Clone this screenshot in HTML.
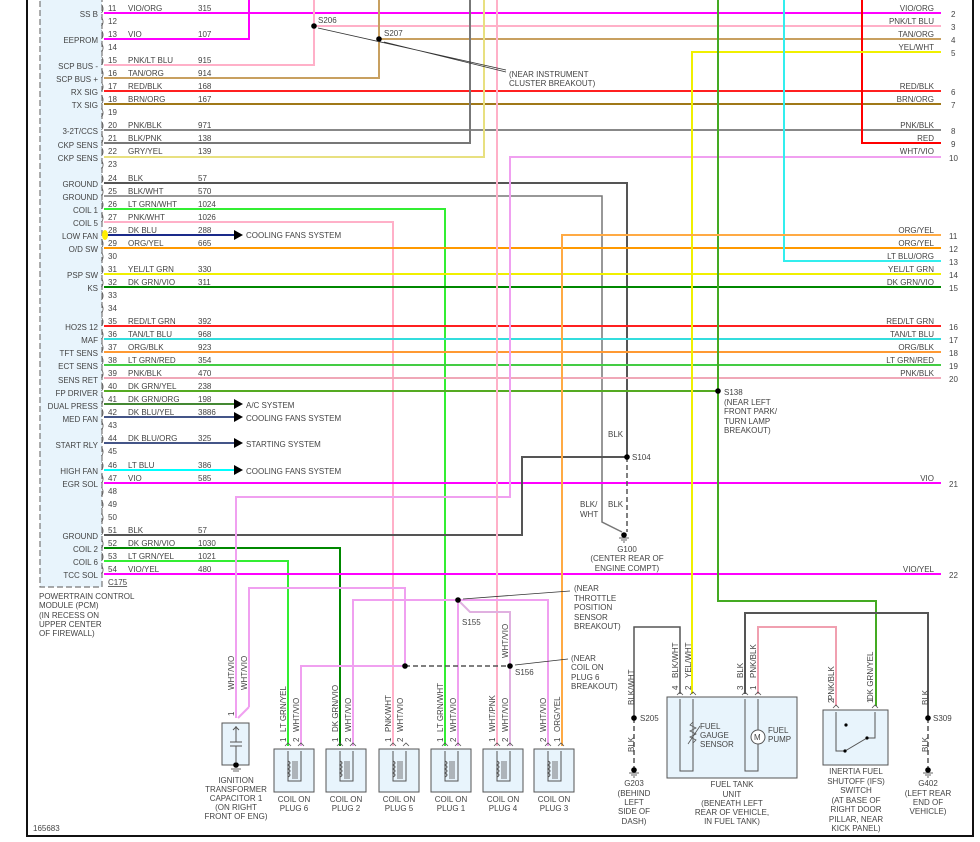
<!DOCTYPE html>
<html><head><meta charset="utf-8"><style>
html,body{margin:0;padding:0;background:#fff;}
svg{display:block;font-family:"Liberation Sans",sans-serif;font-size:8px;fill:#444;}
</style></head><body>
<svg width="980" height="842" viewBox="0 0 980 842" xmlns="http://www.w3.org/2000/svg">
<defs>
<g id="coil">
<rect x="0" y="0" width="40" height="43" fill="#e8f4fc" stroke="#555" stroke-width="1"/>
<path d="M14 2 V32 H27 V2" fill="none" stroke="#555" stroke-width="1"/>
<path d="M14 12 q4 2 0 4 q4 2 0 4 q4 2 0 4 q4 2 0 4" fill="none" stroke="#555" stroke-width="1"/>
<path d="M19 12 V30 M21 12 V30 M23 12 V30" stroke="#555" stroke-width="0.8"/>
<path d="M11 -3 l3 -3 l3 3 M24 -3 l3 -3 l3 3" fill="none" stroke="#555" stroke-width="0.8"/>
</g>
</defs>
<!-- page border -->
<path d="M27 0 V836 H973 V0" fill="none" stroke="#111" stroke-width="2"/>
<!-- PCM box -->
<rect x="40" y="-5" width="62" height="592" fill="#e8f4fc" stroke="#777" stroke-width="1.2" stroke-dasharray="6,3"/>
<g stroke-width="2" fill="none">
<!-- vertical risers to top -->
<path d="M104 13 H941" stroke="#ff00ff"/>
<path d="M104 39 H249 V0" stroke="#ff00ff"/>
<path d="M104 65 H314 V0" stroke="#ffb0c8"/>
<path d="M314 26 H941" stroke="#ffb0c8"/>
<path d="M104 78 H379 V0" stroke="#c8a060"/>
<path d="M379 39 H941" stroke="#c8a060"/>
<path d="M104 91 H941" stroke="#ff2020"/>
<path d="M104 104 H941" stroke="#a07818"/>
<path d="M104 130 H941" stroke="#888"/>
<path d="M104 143 H470 V0" stroke="#777"/>
<path d="M104 157 H484 V0" stroke="#e8e080"/>
<path d="M104 183 H627 V457" stroke="#555"/>
<path d="M104 196 H602 V522 L622 532" stroke="#777" stroke-width="1.5"/>
<path d="M104 209 H445 V746" stroke="#33ee33"/>
<path d="M104 222 H393 V746" stroke="#ffb0c8"/>
<path d="M104 248 H941" stroke="#ff9900"/>
<path d="M104 274 H941" stroke="#f0f000"/>
<path d="M104 287 H941" stroke="#008800"/>
<path d="M104 326 H941" stroke="#ff2020"/>
<path d="M104 339 H941" stroke="#33dddd"/>
<path d="M104 352 H941" stroke="#ff9933"/>
<path d="M104 365 H941" stroke="#44cc44"/>
<path d="M104 378 H941" stroke="#f0a8b8"/>
<path d="M104 391 H718" stroke="#55aa22"/>
<path d="M104 483 H941" stroke="#ff00ff"/>
<path d="M104 535 H522 V457 H627" stroke="#555"/>
<path d="M104 548 H340 V746" stroke="#008800"/>
<path d="M104 561 H288 V746" stroke="#33ee33"/>
<path d="M104 574 H941" stroke="#ff00ff"/>
<!-- arrow wires -->
<path d="M104 235 H234" stroke="#1a2a8a"/>
<path d="M104 404 H234" stroke="#448833"/>
<path d="M104 417 H234" stroke="#445588"/>
<path d="M104 443 H234" stroke="#445588"/>
<path d="M104 470 H234" stroke="#00ffff"/>
<!-- right side feeds -->
<path d="M862 0 V143 H941" stroke="#ff0000"/>
<path d="M941 157 H510 V497 H236 V718" stroke="#f0a0f0"/>
<path d="M497 0 V746" stroke="#ffb0c8"/>
<path d="M941 52 H692 V694" stroke="#f0f000"/>
<path d="M718 0 V601 H876 V706" stroke="#44aa22"/>
<path d="M784 0 V261 H941" stroke="#33eeee"/>
<path d="M941 235 H562 V746" stroke="#ffaa44"/>
<path d="M249 707 V588 H405 V666" stroke="#f0a0f0"/>
<path d="M249 707 L238 718" stroke="#f0a0f0"/>
<path d="M405 666 H301 V746" stroke="#f0a0f0"/>
<path d="M353 746 V600 H548 V746" stroke="#f0a0f0"/>
<path d="M458 600 V746" stroke="#f0a0f0"/>
<path d="M458 600 L470 612 H510 V746" stroke="#e0b0e0"/>
<!-- fuel side -->
<path d="M634 718 V627 H680 V694" stroke="#555" stroke-width="1.5"/>
<path d="M745 694 V613 H928 V718" stroke="#555"/>
<path d="M758 694 V627 H836 V706" stroke="#f0a0b0"/>
</g>
<!-- dashed -->
<g stroke="#555" stroke-width="1.5" fill="none" stroke-dasharray="5,3">
<path d="M627 457 V532"/>
<path d="M405 666 H510"/>
<path d="M634 718 V768"/>
<path d="M928 718 V768"/>
</g>
<!-- arrowheads -->
<g fill="#000">
<path d="M234 230 L243 235 L234 240Z"/>
<path d="M234 399 L243 404 L234 409Z"/>
<path d="M234 412 L243 417 L234 422Z"/>
<path d="M234 438 L243 443 L234 448Z"/>
<path d="M234 465 L243 470 L234 475Z"/>
</g>
<ellipse cx="105" cy="235" rx="3" ry="5" fill="#ffee00"/>
<!-- dots -->
<g fill="#000">
<circle cx="314" cy="26" r="2.8"/><circle cx="379" cy="39" r="2.8"/>
<circle cx="627" cy="457" r="2.8"/><circle cx="718" cy="391" r="2.8"/>
<circle cx="624" cy="535" r="2.8"/><circle cx="458" cy="600" r="2.8"/>
<circle cx="405" cy="666" r="2.8"/><circle cx="510" cy="666" r="2.8"/>
<circle cx="634" cy="718" r="2.8"/><circle cx="928" cy="718" r="2.8"/>
<circle cx="634" cy="770" r="2.8"/><circle cx="928" cy="770" r="2.8"/>
</g>
<g stroke="#333" stroke-width="0.8">
<path d="M619 538 H629 M621 540 H627 M623 542 H625"/>
<path d="M629 773 H639 M631 775 H637 M633 777 H635"/>
<path d="M923 773 H933 M925 775 H931 M927 777 H929"/>
<path d="M506 70 L318 28 M506 72 L384 42 M570 591 L463 599 M568 659 L515 665"/>
</g>
<!-- PCM left labels -->
<g text-anchor="end">
<text x="98" y="17">SS B</text><text x="98" y="43">EEPROM</text><text x="98" y="69">SCP BUS -</text>
<text x="98" y="82">SCP BUS +</text><text x="98" y="95">RX SIG</text><text x="98" y="108">TX SIG</text>
<text x="98" y="134">3-2T/CCS</text><text x="98" y="148">CKP SENS</text><text x="98" y="161">CKP SENS</text>
<text x="98" y="187">GROUND</text><text x="98" y="200">GROUND</text><text x="98" y="213">COIL 1</text>
<text x="98" y="226">COIL 5</text><text x="98" y="239">LOW FAN</text><text x="98" y="252">O/D SW</text>
<text x="98" y="278">PSP SW</text><text x="98" y="291">KS</text><text x="98" y="330">HO2S 12</text>
<text x="98" y="343">MAF</text><text x="98" y="356">TFT SENS</text><text x="98" y="369">ECT SENS</text>
<text x="98" y="383">SENS RET</text><text x="98" y="396">FP DRIVER</text><text x="98" y="409">DUAL PRESS</text>
<text x="98" y="422">MED FAN</text><text x="98" y="448">START RLY</text><text x="98" y="474">HIGH FAN</text>
<text x="98" y="487">EGR SOL</text><text x="98" y="539">GROUND</text><text x="98" y="552">COIL 2</text>
<text x="98" y="565">COIL 6</text><text x="98" y="578">TCC SOL</text>
</g>
<!-- pin numbers / wire names -->
<g>
<text x="108" y="11">11</text><text x="128" y="11">VIO/ORG</text><text x="198" y="11">315</text>
<text x="108" y="24">12</text>
<text x="108" y="37">13</text><text x="128" y="37">VIO</text><text x="198" y="37">107</text>
<text x="108" y="50">14</text>
<text x="108" y="63">15</text><text x="128" y="63">PNK/LT BLU</text><text x="198" y="63">915</text>
<text x="108" y="76">16</text><text x="128" y="76">TAN/ORG</text><text x="198" y="76">914</text>
<text x="108" y="89">17</text><text x="128" y="89">RED/BLK</text><text x="198" y="89">168</text>
<text x="108" y="102">18</text><text x="128" y="102">BRN/ORG</text><text x="198" y="102">167</text>
<text x="108" y="115">19</text>
<text x="108" y="128">20</text><text x="128" y="128">PNK/BLK</text><text x="198" y="128">971</text>
<text x="108" y="141">21</text><text x="128" y="141">BLK/PNK</text><text x="198" y="141">138</text>
<text x="108" y="154">22</text><text x="128" y="154">GRY/YEL</text><text x="198" y="154">139</text>
<text x="108" y="167">23</text>
<text x="108" y="181">24</text><text x="128" y="181">BLK</text><text x="198" y="181">57</text>
<text x="108" y="194">25</text><text x="128" y="194">BLK/WHT</text><text x="198" y="194">570</text>
<text x="108" y="207">26</text><text x="128" y="207">LT GRN/WHT</text><text x="198" y="207">1024</text>
<text x="108" y="220">27</text><text x="128" y="220">PNK/WHT</text><text x="198" y="220">1026</text>
<text x="108" y="233">28</text><text x="128" y="233">DK BLU</text><text x="198" y="233">288</text>
<text x="108" y="246">29</text><text x="128" y="246">ORG/YEL</text><text x="198" y="246">665</text>
<text x="108" y="259">30</text>
<text x="108" y="272">31</text><text x="128" y="272">YEL/LT GRN</text><text x="198" y="272">330</text>
<text x="108" y="285">32</text><text x="128" y="285">DK GRN/VIO</text><text x="198" y="285">311</text>
<text x="108" y="298">33</text><text x="108" y="311">34</text>
<text x="108" y="324">35</text><text x="128" y="324">RED/LT GRN</text><text x="198" y="324">392</text>
<text x="108" y="337">36</text><text x="128" y="337">TAN/LT BLU</text><text x="198" y="337">968</text>
<text x="108" y="350">37</text><text x="128" y="350">ORG/BLK</text><text x="198" y="350">923</text>
<text x="108" y="363">38</text><text x="128" y="363">LT GRN/RED</text><text x="198" y="363">354</text>
<text x="108" y="376">39</text><text x="128" y="376">PNK/BLK</text><text x="198" y="376">470</text>
<text x="108" y="389">40</text><text x="128" y="389">DK GRN/YEL</text><text x="198" y="389">238</text>
<text x="108" y="402">41</text><text x="128" y="402">DK GRN/ORG</text><text x="198" y="402">198</text>
<text x="108" y="415">42</text><text x="128" y="415">DK BLU/YEL</text><text x="198" y="415">3886</text>
<text x="108" y="428">43</text>
<text x="108" y="441">44</text><text x="128" y="441">DK BLU/ORG</text><text x="198" y="441">325</text>
<text x="108" y="454">45</text>
<text x="108" y="468">46</text><text x="128" y="468">LT BLU</text><text x="198" y="468">386</text>
<text x="108" y="481">47</text><text x="128" y="481">VIO</text><text x="198" y="481">585</text>
<text x="108" y="494">48</text><text x="108" y="507">49</text><text x="108" y="520">50</text>
<text x="108" y="533">51</text><text x="128" y="533">BLK</text><text x="198" y="533">57</text>
<text x="108" y="546">52</text><text x="128" y="546">DK GRN/VIO</text><text x="198" y="546">1030</text>
<text x="108" y="559">53</text><text x="128" y="559">LT GRN/YEL</text><text x="198" y="559">1021</text>
<text x="108" y="572">54</text><text x="128" y="572">VIO/YEL</text><text x="198" y="572">480</text>
<text x="108" y="585" text-decoration="underline">C175</text>
</g>
<!-- connector brackets -->
<g fill="#555" font-size="9">
<text x="101" y="11">)</text><text x="101" y="24">)</text><text x="101" y="37">)</text><text x="101" y="50">)</text><text x="101" y="63">)</text><text x="101" y="76">)</text><text x="101" y="89">)</text><text x="101" y="102">)</text><text x="101" y="115">)</text><text x="101" y="128">)</text><text x="101" y="141">)</text><text x="101" y="154">)</text><text x="101" y="167">)</text><text x="101" y="181">)</text><text x="101" y="194">)</text><text x="101" y="207">)</text><text x="101" y="220">)</text><text x="101" y="246">)</text><text x="101" y="259">)</text><text x="101" y="272">)</text><text x="101" y="285">)</text><text x="101" y="298">)</text><text x="101" y="311">)</text><text x="101" y="324">)</text><text x="101" y="337">)</text><text x="101" y="350">)</text><text x="101" y="363">)</text><text x="101" y="376">)</text><text x="101" y="389">)</text><text x="101" y="402">)</text><text x="101" y="415">)</text><text x="101" y="428">)</text><text x="101" y="441">)</text><text x="101" y="454">)</text><text x="101" y="468">)</text><text x="101" y="481">)</text><text x="101" y="494">)</text><text x="101" y="507">)</text><text x="101" y="520">)</text><text x="101" y="533">)</text><text x="101" y="546">)</text><text x="101" y="559">)</text><text x="101" y="572">)</text>
</g>
<!-- arrow labels -->
<text x="246" y="238">COOLING FANS SYSTEM</text>
<text x="246" y="408">A/C SYSTEM</text>
<text x="246" y="421">COOLING FANS SYSTEM</text>
<text x="246" y="447">STARTING SYSTEM</text>
<text x="246" y="474">COOLING FANS SYSTEM</text>
<!-- right labels -->
<g text-anchor="end">
<text x="934" y="11">VIO/ORG</text><text x="934" y="24">PNK/LT BLU</text><text x="934" y="37">TAN/ORG</text>
<text x="934" y="50">YEL/WHT</text><text x="934" y="89">RED/BLK</text><text x="934" y="102">BRN/ORG</text>
<text x="934" y="128">PNK/BLK</text><text x="934" y="141">RED</text><text x="934" y="154">WHT/VIO</text>
<text x="934" y="233">ORG/YEL</text><text x="934" y="246">ORG/YEL</text><text x="934" y="259">LT BLU/ORG</text>
<text x="934" y="272">YEL/LT GRN</text><text x="934" y="285">DK GRN/VIO</text><text x="934" y="324">RED/LT GRN</text>
<text x="934" y="337">TAN/LT BLU</text><text x="934" y="350">ORG/BLK</text><text x="934" y="363">LT GRN/RED</text>
<text x="934" y="376">PNK/BLK</text><text x="934" y="481">VIO</text><text x="934" y="572">VIO/YEL</text>
</g>
<g>
<text x="951" y="17">2</text><text x="951" y="30">3</text><text x="951" y="43">4</text><text x="951" y="56">5</text>
<text x="951" y="95">6</text><text x="951" y="108">7</text><text x="951" y="134">8</text><text x="951" y="147">9</text>
<text x="949" y="161">10</text><text x="949" y="239">11</text><text x="949" y="252">12</text><text x="949" y="265">13</text>
<text x="949" y="278">14</text><text x="949" y="291">15</text><text x="949" y="330">16</text><text x="949" y="343">17</text>
<text x="949" y="356">18</text><text x="949" y="369">19</text><text x="949" y="382">20</text><text x="949" y="487">21</text>
<text x="949" y="578">22</text>
</g>
<!-- splice labels -->
<text x="318" y="23">S206</text><text x="384" y="36">S207</text>
<text x="509" y="77">(NEAR INSTRUMENT</text><text x="509" y="86">CLUSTER BREAKOUT)</text>
<text x="632" y="460">S104</text><text x="608" y="437">BLK</text>
<text x="580" y="507">BLK/</text><text x="580" y="517">WHT</text><text x="608" y="507">BLK</text>
<g text-anchor="middle"><text x="627" y="552">G100</text><text x="627" y="561">(CENTER REAR OF</text><text x="627" y="571">ENGINE COMPT)</text></g>
<text x="724" y="395">S138</text><text x="724" y="405">(NEAR LEFT</text><text x="724" y="414">FRONT PARK/</text><text x="724" y="424">TURN LAMP</text><text x="724" y="433">BREAKOUT)</text>
<text x="462" y="625">S155</text>
<text x="574" y="591">(NEAR</text><text x="574" y="601">THROTTLE</text><text x="574" y="610">POSITION</text><text x="574" y="620">SENSOR</text><text x="574" y="629">BREAKOUT)</text>
<text x="515" y="675">S156</text>
<text x="571" y="661">(NEAR</text><text x="571" y="670">COIL ON</text><text x="571" y="680">PLUG 6</text><text x="571" y="689">BREAKOUT)</text>
<!-- PCM caption -->
<text x="39" y="599">POWERTRAIN CONTROL</text><text x="39" y="608">MODULE (PCM)</text><text x="39" y="618">(IN RECESS ON</text><text x="39" y="627">UPPER CENTER</text><text x="39" y="636">OF FIREWALL)</text>
<text x="33" y="831">165683</text>
<!-- coils -->
<use href="#coil" x="274" y="749"/><use href="#coil" x="326" y="749"/><use href="#coil" x="379" y="749"/>
<use href="#coil" x="431" y="749"/><use href="#coil" x="483" y="749"/><use href="#coil" x="534" y="749"/>
<g text-anchor="middle">
<text x="294" y="802">COIL ON</text><text x="294" y="811">PLUG 6</text>
<text x="346" y="802">COIL ON</text><text x="346" y="811">PLUG 2</text>
<text x="399" y="802">COIL ON</text><text x="399" y="811">PLUG 5</text>
<text x="451" y="802">COIL ON</text><text x="451" y="811">PLUG 1</text>
<text x="503" y="802">COIL ON</text><text x="503" y="811">PLUG 4</text>
<text x="554" y="802">COIL ON</text><text x="554" y="811">PLUG 3</text>
<text x="236" y="783">IGNITION</text><text x="236" y="792">TRANSFORMER</text><text x="236" y="801">CAPACITOR 1</text><text x="236" y="810">(ON RIGHT</text><text x="236" y="819">FRONT OF ENG)</text>
<text x="732" y="787">FUEL TANK</text><text x="732" y="797">UNIT</text><text x="732" y="806">(BENEATH LEFT</text><text x="732" y="815">REAR OF VEHICLE,</text><text x="732" y="824">IN FUEL TANK)</text>
<text x="856" y="774">INERTIA FUEL</text><text x="856" y="784">SHUTOFF (IFS)</text><text x="856" y="793">SWITCH</text><text x="856" y="803">(AT BASE OF</text><text x="856" y="812">RIGHT DOOR</text><text x="856" y="822">PILLAR, NEAR</text><text x="856" y="831">KICK PANEL)</text>
<text x="634" y="786">G203</text><text x="634" y="796">(BEHIND</text><text x="634" y="805">LEFT</text><text x="634" y="814">SIDE OF</text><text x="634" y="824">DASH)</text>
<text x="928" y="786">G402</text><text x="928" y="796">(LEFT REAR</text><text x="928" y="805">END OF</text><text x="928" y="814">VEHICLE)</text>
</g>
<!-- rotated labels -->
<g>
<text transform="translate(286,732) rotate(-90)">LT GRN/YEL</text><text transform="translate(299,732) rotate(-90)">WHT/VIO</text>
<text transform="translate(338,732) rotate(-90)">DK GRN/VIO</text><text transform="translate(351,732) rotate(-90)">WHT/VIO</text>
<text transform="translate(391,732) rotate(-90)">PNK/WHT</text><text transform="translate(403,732) rotate(-90)">WHT/VIO</text>
<text transform="translate(443,732) rotate(-90)">LT GRN/WHT</text><text transform="translate(456,732) rotate(-90)">WHT/VIO</text>
<text transform="translate(495,732) rotate(-90)">WHT/PNK</text><text transform="translate(508,732) rotate(-90)">WHT/VIO</text>
<text transform="translate(546,732) rotate(-90)">WHT/VIO</text><text transform="translate(560,732) rotate(-90)">ORG/YEL</text>
<text transform="translate(508,658) rotate(-90)">WHT/VIO</text>
<text transform="translate(234,690) rotate(-90)">WHT/VIO</text><text transform="translate(247,690) rotate(-90)">WHT/VIO</text>
<text transform="translate(634,705) rotate(-90)">BLK/WHT</text><text transform="translate(634,752) rotate(-90)">BLK</text>
<text transform="translate(928,705) rotate(-90)">BLK</text><text transform="translate(928,752) rotate(-90)">BLK</text>
<text transform="translate(678,678) rotate(-90)">BLK/WHT</text><text transform="translate(691,678) rotate(-90)">YEL/WHT</text>
<text transform="translate(743,678) rotate(-90)">BLK</text><text transform="translate(756,678) rotate(-90)">PNK/BLK</text>
<text transform="translate(834,700) rotate(-90)">PNK/BLK</text><text transform="translate(873,700) rotate(-90)">DK GRN/YEL</text>
<text transform="translate(286,742) rotate(-90)">1</text><text transform="translate(299,742) rotate(-90)">2</text>
<text transform="translate(338,742) rotate(-90)">1</text><text transform="translate(351,742) rotate(-90)">2</text>
<text transform="translate(391,742) rotate(-90)">1</text><text transform="translate(403,742) rotate(-90)">2</text>
<text transform="translate(443,742) rotate(-90)">1</text><text transform="translate(456,742) rotate(-90)">2</text>
<text transform="translate(495,742) rotate(-90)">1</text><text transform="translate(508,742) rotate(-90)">2</text>
<text transform="translate(546,742) rotate(-90)">2</text><text transform="translate(560,742) rotate(-90)">1</text>
<text transform="translate(234,716) rotate(-90)">1</text>
<text transform="translate(678,690) rotate(-90)">4</text><text transform="translate(691,690) rotate(-90)">2</text>
<text transform="translate(743,690) rotate(-90)">3</text><text transform="translate(756,690) rotate(-90)">1</text>
<text transform="translate(834,703) rotate(-90)">2</text><text transform="translate(873,703) rotate(-90)">1</text>
</g>
<!-- capacitor -->
<rect x="222" y="723" width="27" height="42" fill="#e8f4fc" stroke="#555"/>
<path d="M236 726 V742 M230 742 H242 M230 746 H242 M236 746 V762 M233 730 l3 -3 l3 3" fill="none" stroke="#555"/>
<circle cx="236" cy="765" r="2.8" fill="#000"/>
<path d="M231 769 H241 M233 771 H239" stroke="#333" stroke-width="0.8"/>
<!-- fuel tank unit -->
<rect x="667" y="697" width="130" height="81" fill="#e8f4fc" stroke="#555"/>
<path d="M680 699 V771 H693 V699 M745 699 V771 H758 V699" fill="none" stroke="#555"/>
<path d="M693 722 l-3 3 l6 3 l-6 3 l6 3 l-6 3 l6 3 l-3 3 M688 744 L700 726" fill="none" stroke="#555" stroke-width="0.8"/>
<circle cx="758" cy="737" r="7" fill="#fff" stroke="#555"/>
<text x="754" y="740">M</text>
<text x="700" y="729">FUEL</text><text x="700" y="738">GAUGE</text><text x="700" y="747">SENSOR</text>
<text x="768" y="733">FUEL</text><text x="768" y="742">PUMP</text>
<path d="M677 695 l3 -3 l3 3 M690 695 l3 -3 l3 3 M742 695 l3 -3 l3 3 M755 695 l3 -3 l3 3" fill="none" stroke="#555" stroke-width="0.8"/>
<!-- IFS -->
<rect x="823" y="710" width="65" height="55" fill="#e8f4fc" stroke="#555"/>
<path d="M836 712 V751 H845 L867 738 H875 V712" fill="none" stroke="#555"/>
<circle cx="846" cy="725" r="1.6" fill="#000"/><circle cx="845" cy="751" r="1.6" fill="#000"/><circle cx="867" cy="738" r="1.6" fill="#000"/>
<path d="M833 708 l3 -3 l3 3 M872 708 l3 -3 l3 3" fill="none" stroke="#555" stroke-width="0.8"/>
<text x="640" y="721">S205</text><text x="933" y="721">S309</text>
</svg>
</body></html>
